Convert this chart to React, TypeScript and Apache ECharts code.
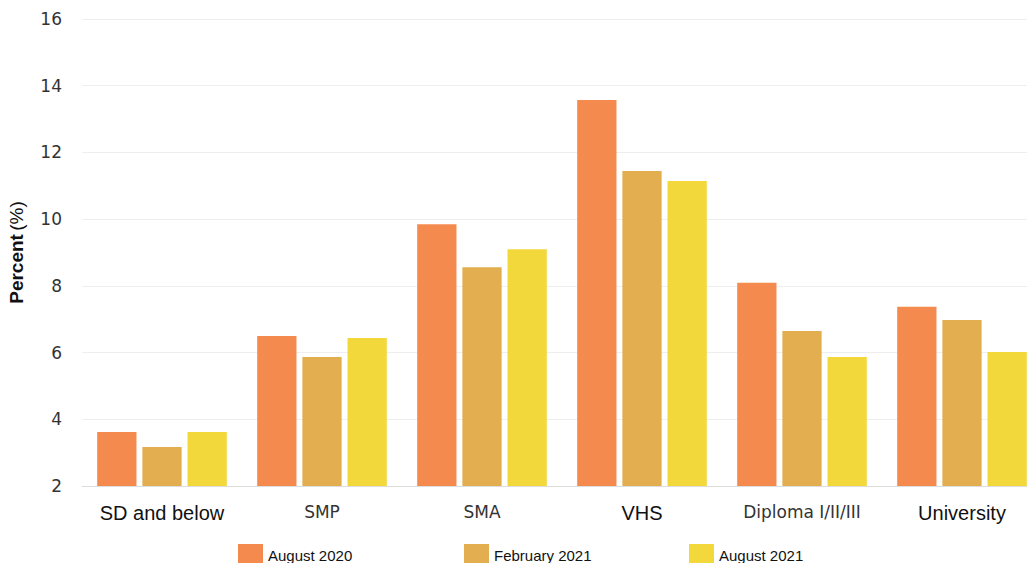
import React, { useEffect, useRef } from "react";
import * as echarts from "echarts";

const categories = ["SD and below", "SMP", "SMA", "VHS", "Diploma I/II/III", "University"];
const labelStyleKey = ["a", "b", "b", "a", "b", "a"];
const seriesNames = ["August 2020", "February 2021", "August 2021"];
const aug2020 = [3.62, 6.5, 9.85, 13.57, 8.09, 7.37];
const feb2021 = [3.17, 5.87, 8.56, 11.44, 6.65, 6.98];
const aug2021 = [3.62, 6.44, 9.1, 11.14, 5.87, 6.02];
const colors = ["#F48A4E", "#E2AE4F", "#F3D83B"];
const legendLefts = [233, 459, 684];

export default function App() {
  const ref = useRef<HTMLDivElement>(null);
  useEffect(() => {
    if (!ref.current) return;
    const chart = echarts.init(ref.current, undefined, { renderer: "svg" });
    const values = [aug2020, feb2021, aug2021];
    chart.setOption({
      animation: false,
      backgroundColor: "#ffffff",
      grid: { left: 82, right: 0, top: 19, bottom: 77, outerBoundsMode: "none", containLabel: false },
      legend: seriesNames.map((n, i) => ({
        data: [n],
        left: legendLefts[i],
        top: 539,
        itemWidth: 25,
        itemHeight: 23,
        itemGap: 6,
        icon: "rect",
        textStyle: { fontFamily: "Liberation Sans, Arial, sans-serif", fontSize: 15, color: "#111" },
      })),
      xAxis: {
        type: "category",
        data: categories,
        axisLine: { lineStyle: { color: "#dddddd" } },
        axisTick: { alignWithLabel: true, length: 6, lineStyle: { color: "#cccccc" } },
        axisLabel: {
          margin: 17,
          formatter: (v: string) => {
            const idx = categories.indexOf(v);
            return "{" + labelStyleKey[idx] + "|" + v + "}";
          },
          rich: {
            a: { fontFamily: "Liberation Sans, Arial, sans-serif", fontSize: 20, color: "#111" },
            b: { fontFamily: "DejaVu Sans, Verdana, sans-serif", fontSize: 17, color: "#333" },
          },
        },
      },
      yAxis: {
        type: "value",
        min: 2,
        max: 16,
        interval: 2,
        name: "{p|Percent} {q|(%)}",
        nameLocation: "middle",
        nameRotate: 90,
        nameGap: 56,
        nameTextStyle: {
          rich: {
            p: { fontFamily: "Liberation Sans, Arial, sans-serif", fontSize: 19, fontWeight: "bold", color: "#111" },
            q: { fontFamily: "Liberation Sans, Arial, sans-serif", fontSize: 19, color: "#111" },
          },
        },
        axisLine: { show: false },
        axisTick: { show: false },
        axisLabel: { margin: 20, fontFamily: "DejaVu Sans, Verdana, sans-serif", fontSize: 17, color: "#333" },
        splitLine: { lineStyle: { color: "#eeeeee" } },
      },
      series: seriesNames.map((n, i) => ({
        name: n,
        type: "bar",
        data: values[i],
        barGap: "15%",
        barCategoryGap: "19%",
        itemStyle: { color: colors[i] },
      })),
    });
    return () => chart.dispose();
  }, []);
  return (
    <div style={{ position: "absolute", left: 0, top: 0, width: 1027, height: 563, overflow: "hidden" }}>
      <div ref={ref} style={{ width: 1042, height: 563 }} />
    </div>
  );
}
